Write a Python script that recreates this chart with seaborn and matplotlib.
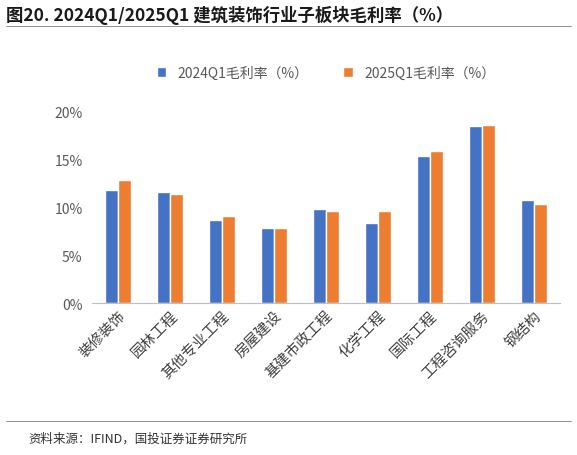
import numpy as np
import pandas as pd
import matplotlib
matplotlib.use("Agg")
import matplotlib.pyplot as plt
import seaborn as sns

categories = ['装修装饰', '园林工程', '其他专业工程', '房屋建设', '基建市政工程',
              '化学工程', '国际工程', '工程咨询服务', '钢结构']
margin_2024 = [11.8, 11.6, 8.7, 7.8, 9.8, 8.4, 15.4, 18.5, 10.8]
margin_2025 = [12.9, 11.4, 9.1, 7.8, 9.6, 9.6, 15.9, 18.6, 10.4]
series_names = ['2024Q1毛利率（%）', '2025Q1毛利率（%）']

sns.set_style('white')
plt.rcParams['font.family'] = ['Noto Sans CJK SC', 'DejaVu Sans']

df = pd.DataFrame({'板块': categories * 2,
                   '值': margin_2024 + margin_2025,
                   '系列': [series_names[0]] * 9 + [series_names[1]] * 9})

fig = plt.figure(figsize=(5.77, 4.56), dpi=100)
ax = fig.add_axes([0.16, 0.333, 0.81, 0.42])
sns.barplot(data=df, x='板块', y='值', hue='系列', palette=['#4472C4', '#ED7D31'],
            width=0.5, gap=0.0, ax=ax, saturation=1)
ax.set_ylim(0, 20)
ax.set_yticks([0, 5, 10, 15, 20])
ax.set_yticklabels([f'{v}%' for v in [0, 5, 10, 15, 20]], color='#595959', fontsize=10)
ax.set_xlabel('')
ax.set_ylabel('')
for s in ['top', 'right', 'left']:
    ax.spines[s].set_visible(False)
ax.spines['bottom'].set_color('#BFBFBF')
ax.tick_params(axis='x', length=0)
plt.setp(ax.get_xticklabels(), rotation=45, ha='right', rotation_mode='anchor',
         fontsize=10.5, color='#404040')
ax.legend(loc='lower center', bbox_to_anchor=(0.5, 1.1), ncol=2, frameon=False,
          fontsize=10, handlelength=0.7, handleheight=0.7, columnspacing=2.5,
          labelcolor='#595959')

fig.text(0.01, 0.955, '图20. 2024Q1/2025Q1 建筑装饰行业子板块毛利率（%）',
         fontsize=12.5, fontweight='bold', color='#1a1a1a')
fig.add_artist(plt.Line2D([0.01, 0.99], [0.94, 0.94], color='#7f7f7f', lw=0.6))
fig.add_artist(plt.Line2D([0.01, 0.99], [0.075, 0.075], color='#7f7f7f', lw=0.6))
fig.text(0.05, 0.03, '资料来源：IFIND，国投证券证券研究所', fontsize=9,
         style='italic', color='#333333')

fig.savefig('out.png', dpi=100)
